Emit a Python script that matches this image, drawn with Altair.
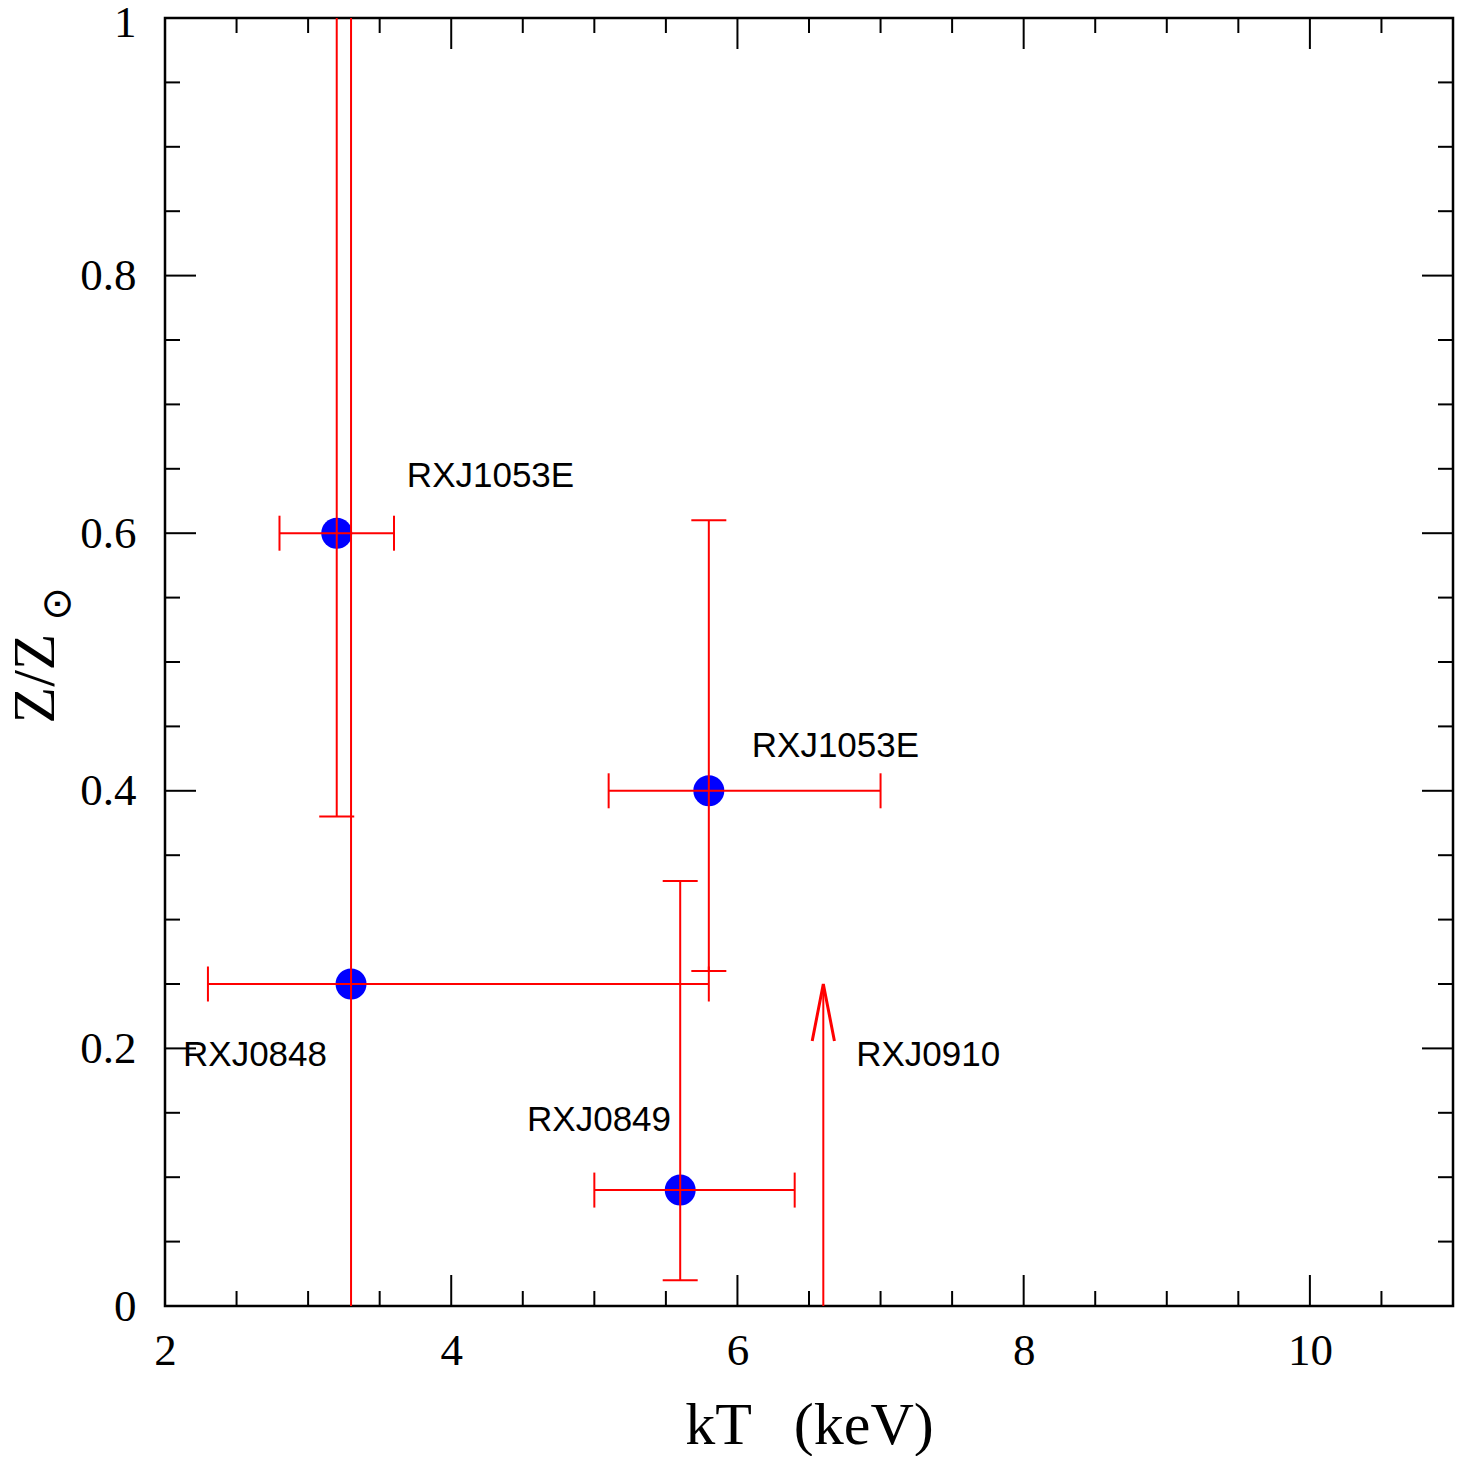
import altair as alt
import pandas as pd

# ---- data ----
kT = [3.2, 3.3, 5.8, 5.6]
kT_lo = [2.8, 2.3, 5.1, 5.0]
kT_hi = [3.6, 5.8, 7.0, 6.4]
Z = [0.6, 0.25, 0.4, 0.09]
Z_lo = [0.38, -0.1, 0.26, 0.02]
Z_hi = [1.1, 1.1, 0.61, 0.33]

arrow_kT = [6.6]
arrow_from = [0.0]
arrow_to = [0.25]

label_text = ["RXJ1053E", "RXJ1053E", "RXJ0848", "RXJ0849", "RXJ0910"]
label_x = [3.69, 6.10, 2.126, 4.53, 6.83]
label_y = [0.636, 0.426, 0.186, 0.136, 0.186]

x_major = [2, 4, 6, 8, 10]
x_minor = [2.5, 3, 3.5, 4.5, 5, 5.5, 6.5, 7, 7.5, 8.5, 9, 9.5, 10.5]
y_major = [0.2, 0.4, 0.6, 0.8]
y_minor = [0.05, 0.1, 0.15, 0.25, 0.3, 0.35, 0.45, 0.5, 0.55,
           0.65, 0.7, 0.75, 0.85, 0.9, 0.95]
x_labels = [2, 4, 6, 8, 10]
y_labels = [0, 0.2, 0.4, 0.6, 0.8, 1]

W = 1288
H = 1288
MAJ = 31
MIN = 15
RED = "#ff0000"

df = pd.DataFrame({"kT": kT, "kT_lo": kT_lo, "kT_hi": kT_hi,
                   "Z": Z, "Z_lo": Z_lo, "Z_hi": Z_hi})
arr = pd.DataFrame({"kT": arrow_kT, "a0": arrow_from, "a1": arrow_to})
lab = pd.DataFrame({"t": label_text, "x": label_x, "y": label_y})

xs = alt.Scale(domain=[2, 11], nice=False, zero=False)
ys = alt.Scale(domain=[0, 1], nice=False, zero=False)

serif = "Liberation Serif"
X_TITLE = "kT\u2002\u2009(keV)"
Y_TITLE = "Z/Z"

XA = alt.Axis(values=x_labels, format="d", labelFont=serif, labelFontSize=45,
              labelColor="black", labelPadding=22, labelFlush=False,
              ticks=False, tickSize=0,
              domain=False, grid=False, title=X_TITLE, titleFont=serif,
              titleFontSize=60, titleFontWeight="normal", titleColor="black",
              titleBaseline="alphabetic", titleY=137)
YA = alt.Axis(values=y_labels, format="~g", labelFont=serif, labelFontSize=45,
              labelColor="black", labelPadding=29, labelFlush=False,
              labelOffset={"expr": "datum.value === 1 ? 4 : 0"},
              ticks=False, tickSize=0,
              domain=False, grid=False, title=Y_TITLE, titleFont=serif,
              titleFontSize=60, titleFontWeight="normal", titleColor="black",
              titleAngle=270, titleBaseline="alphabetic", titleAlign="center",
              titleX=-112, titleY=660)


def X(f):
    return alt.X(f"{f}:Q", scale=xs, axis=XA, title=X_TITLE)


def Y(f):
    return alt.Y(f"{f}:Q", scale=ys, axis=YA, title=Y_TITLE)


points = alt.Chart(df).mark_point(filled=True, color="#0000ff", opacity=1, size=960).encode(
    x=X("kT"), y=Y("Z"))

hbar = alt.Chart(df).mark_rule(color=RED, strokeWidth=2, clip=True).encode(
    x=X("kT_lo"), x2="kT_hi:Q", y=Y("Z"))
vbar = alt.Chart(df).mark_rule(color=RED, strokeWidth=2, clip=True).encode(
    x=X("kT"), y=Y("Z_lo"), y2="Z_hi:Q")


def vcap(field):
    return alt.Chart(df).mark_tick(color=RED, orient="vertical", size=35,
                                   thickness=2, opacity=1, clip=True).encode(
        x=X(field), y=Y("Z"))


def hcap(field):
    return alt.Chart(df).mark_tick(color=RED, orient="horizontal", size=35,
                                   thickness=2, opacity=1, clip=True).encode(
        x=X("kT"), y=Y(field))


arrow_shaft = alt.Chart(arr).mark_rule(color=RED, strokeWidth=2).encode(
    x=X("kT"), y=Y("a0"), y2="a1:Q")
arrow_head = alt.Chart(arr).mark_point(
    shape="M -0.39 2 L 0 0 L 0.39 2", filled=False, stroke=RED, strokeWidth=3,
    size=3249, opacity=1).encode(x=X("kT"), y=Y("a1"))

labels = alt.Chart(lab).mark_text(align="left", baseline="alphabetic",
                                  font="Liberation Sans", fontSize=35,
                                  color="black").encode(
    x=X("x"), y=Y("y"), text="t:N")


def xticks(vals, length):
    d = pd.DataFrame({"v": vals})
    b = alt.Chart(d).mark_rule(color="black", strokeWidth=2).encode(
        x=X("v"), y=alt.value(H), y2=alt.value(H - length))
    t = alt.Chart(d).mark_rule(color="black", strokeWidth=2).encode(
        x=X("v"), y=alt.value(0), y2=alt.value(length))
    return [b, t]


def yticks(vals, length):
    d = pd.DataFrame({"v": vals})
    l = alt.Chart(d).mark_rule(color="black", strokeWidth=2).encode(
        y=Y("v"), x=alt.value(0), x2=alt.value(length))
    r = alt.Chart(d).mark_rule(color="black", strokeWidth=2).encode(
        y=Y("v"), x=alt.value(W), x2=alt.value(W - length))
    return [l, r]


sun = alt.Chart(pd.DataFrame({"s": ["\u2299"]})).mark_text(
    angle=270, align="center", baseline="middle", font="DejaVu Sans",
    fontSize=40, color="black").encode(
    text="s:N", x=alt.value(-107), y=alt.value(586))

layers = [points, hbar, vbar, vcap("kT_lo"), vcap("kT_hi"), hcap("Z_lo"), hcap("Z_hi"),
          arrow_shaft, arrow_head, labels, sun]
layers += xticks(x_major, MAJ) + xticks(x_minor, MIN)
layers += yticks(y_major, MAJ) + yticks(y_minor, MIN)

chart = alt.layer(*layers).properties(
    width=W, height=H,
    background="white",
    autosize=alt.AutoSizeParams(type="none"),
    padding={"left": 157, "top": 10, "right": 10, "bottom": 150},
).configure_view(stroke="black", strokeWidth=2.5)

chart.save("out.html", embed_options={"renderer": "svg", "actions": False})
